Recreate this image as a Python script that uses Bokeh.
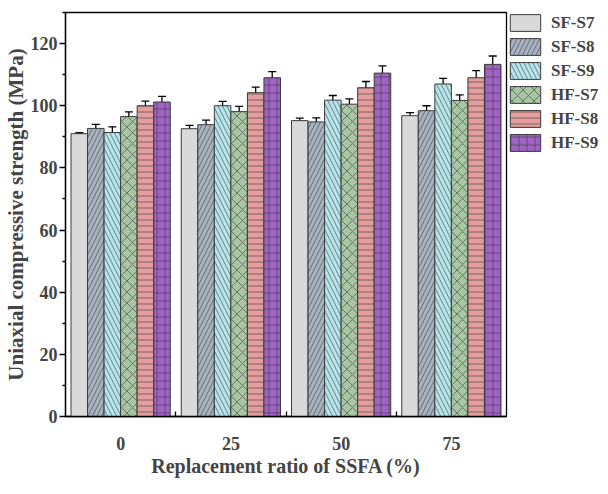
from bokeh.plotting import figure
from bokeh.models import (ColumnDataSource, Whisker, FixedTicker, Legend, LegendItem,
                          Range1d, TeeHead)
from bokeh.embed import file_html
from bokeh.resources import INLINE

categories = ["0", "25", "50", "75"]
series = ["SF-S7", "SF-S8", "SF-S9", "HF-S7", "HF-S8", "HF-S9"]
values = {
    "SF-S7": [91.0, 92.6, 95.2, 96.8],
    "SF-S8": [92.7, 93.9, 94.8, 98.4],
    "SF-S9": [91.4, 100.0, 101.8, 107.0],
    "HF-S7": [96.5, 98.1, 100.5, 101.7],
    "HF-S8": [100.0, 104.2, 105.8, 109.0],
    "HF-S9": [101.2, 109.0, 110.5, 113.3],
}
errors = {
    "SF-S7": [0.3, 1.1, 0.8, 1.0],
    "SF-S8": [1.3, 1.5, 1.3, 1.6],
    "SF-S9": [1.8, 1.4, 1.5, 1.8],
    "HF-S7": [1.5, 1.7, 1.7, 1.8],
    "HF-S8": [1.5, 1.8, 2.0, 2.3],
    "HF-S9": [1.8, 2.0, 2.3, 2.7],
}
colors = ["#d9d9d9", "#a8b3c1", "#b4e6ec", "#a8c6a4", "#e39d9c", "#a062c4"]
hatches = [" ", "/", "\\", "x", "-", "+"]
hatch_scales = [8, 9, 9, 11, 6, 8]

FONT = "Liberation Serif"

p = figure(frame_width=441, frame_height=404, output_backend="svg", toolbar_location=None,
           x_range=Range1d(-0.5, 3.5), y_range=Range1d(0, 130),
           min_border_left=59, min_border_right=0, min_border_top=12, min_border_bottom=60)
p.xgrid.visible = False
p.ygrid.visible = False
p.outline_line_color = "black"
p.outline_line_width = 1.3

n = len(series)
bw = 0.9 / n
xs = list(range(len(categories)))
items = []
for i, s in enumerate(series):
    off = -0.45 + bw * (i + 0.5)
    xpos = [x + off for x in xs]
    up = [v + e for v, e in zip(values[s], errors[s])]
    lo = [v - e for v, e in zip(values[s], errors[s])]
    src = ColumnDataSource(dict(x=xpos, top=values[s], upper=up, lower=lo))
    kw = {}
    if hatches[i].strip():
        kw = dict(hatch_pattern=hatches[i], hatch_color="#3a3a3a", hatch_weight=0.6,
                  hatch_scale=hatch_scales[i])
    r = p.vbar(x="x", top="top", bottom=0, width=bw, source=src, fill_color=colors[i],
               line_color="#3a3a3a", line_width=1, **kw)
    w = Whisker(base="x", upper="upper", lower="lower", source=src, line_color="black",
                line_width=1.3,
                upper_head=TeeHead(size=8, line_color="black", line_width=1.3),
                lower_head=TeeHead(size=8, line_color="black", line_width=1.3))
    p.add_layout(w)
    items.append(LegendItem(label=s, renderers=[r]))

legend = Legend(items=items, location="top_left", glyph_width=38, glyph_height=21,
                spacing=3, padding=0, margin=0, label_standoff=7,
                label_text_font=FONT, label_text_font_style="bold",
                label_text_font_size="17px", border_line_color=None,
                background_fill_alpha=0)
p.add_layout(legend, "right")

# x axis
p.xaxis.ticker = FixedTicker(ticks=xs, minor_ticks=[0.5, 1.5, 2.5])
p.xaxis.major_label_overrides = {i: c for i, c in enumerate(categories)}
p.xaxis.major_tick_line_color = None
p.xaxis.minor_tick_in = 5
p.xaxis.minor_tick_out = 0
p.xaxis.axis_label = "Replacement ratio of SSFA (%)"

# y axis
p.yaxis.ticker = FixedTicker(ticks=list(range(0, 121, 20)), minor_ticks=list(range(10, 131, 20)))
p.yaxis.major_tick_in = 0
p.yaxis.major_tick_out = 6
p.yaxis.minor_tick_in = 0
p.yaxis.minor_tick_out = 3
p.yaxis.axis_label = "Uniaxial compressive strength (MPa)"

for ax in (p.xaxis[0], p.yaxis[0]):
    ax.axis_line_width = 1.3
    ax.major_tick_line_width = 1.3
    ax.minor_tick_line_width = 1.3
    ax.major_label_text_font = FONT
    ax.major_label_text_font_style = "bold"
    ax.major_label_text_font_size = "18px"
    ax.axis_label_text_font = FONT
    ax.axis_label_text_font_style = "bold"

p.xaxis.axis_label_text_font_size = "20px"
p.yaxis.axis_label_text_font_size = "21px"
p.xaxis.major_label_standoff = 14
p.xaxis.axis_label_standoff = 2
p.yaxis.major_label_standoff = 2
p.yaxis.axis_label_standoff = 0

open("out.html", "w").write(file_html(p, INLINE))
